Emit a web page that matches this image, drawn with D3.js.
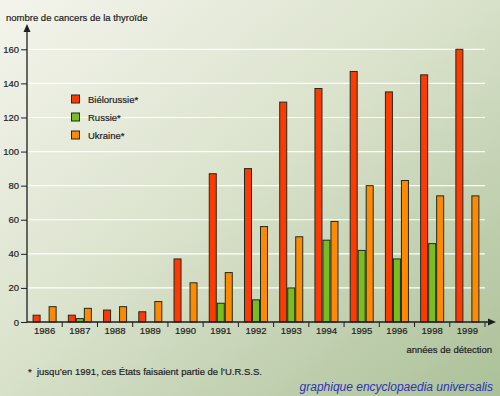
<!DOCTYPE html>
<html>
<head>
<meta charset="utf-8">
<script src="https://cdn.jsdelivr.net/npm/d3@7"></script>
<style>
  body { margin: 0; }
  svg { display: block; font-family: "Liberation Sans", Arial, sans-serif; }
  .info { fill: #1e1e1e; font-size: 9.5px; stroke: #1e1e1e; stroke-width: 0.2px; }
</style>
</head>
<body>
<div id="main"></div>
<script>
const years = ['1986', '1987', '1988', '1989', '1990', '1991', '1992', '1993', '1994', '1995', '1996', '1998', '1999'];
const series = ['Biélorussie*', 'Russie*', 'Ukraine*'];
const bielorussie = [4, 4, 7, 6, 37, 87, 90, 129, 137, 147, 135, 145, 160];
const russie = [0, 2, 0, 0, 0, 11, 13, 20, 48, 42, 37, 46, 0];
const ukraine = [9, 8, 9, 12, 23, 29, 56, 50, 59, 80, 83, 74, 74];
const yTicks = [0, 20, 40, 60, 80, 100, 120, 140, 160];
const colors = ['#ff3a00', '#79bd1e', '#ff8a00'];

function main() {
  const width = 500;
  const height = 396;
  const left = 27;
  const right = 485;
  const bottom = 322;

  const dataSet = years.map((y, i) => ({ year: y, values: [bielorussie[i], russie[i], ukraine[i]] }));

  const xScale = d3.scaleBand().domain(years).range([left, right]).padding(0);
  const inner = d3.scaleBand().domain(d3.range(3)).range([0, xScale.bandwidth()]).paddingOuter(0.7).paddingInner(0);
  const yScale = d3.scaleLinear().domain([0, 160]).range([bottom, 49.3]);

  const svg = d3.select('#main').append('svg')
    .attr('width', width)
    .attr('height', height);

  const grad = svg.append('defs').append('linearGradient')
    .attr('id', 'bg')
    .attr('x1', '0%').attr('y1', '0%')
    .attr('x2', '100%').attr('y2', '100%');
  grad.append('stop').attr('offset', '0%').attr('stop-color', '#f4f4ec');
  grad.append('stop').attr('offset', '45%').attr('stop-color', '#dbe3cd');
  grad.append('stop').attr('offset', '100%').attr('stop-color', '#abc098');

  svg.append('rect')
    .attr('width', width)
    .attr('height', height)
    .attr('fill', 'url(#bg)');

  // gridlines
  svg.append('g').selectAll('line')
    .data(yTicks.filter(d => d > 0))
    .enter()
    .append('line')
    .attr('x1', left)
    .attr('x2', right)
    .attr('y1', d => yScale(d))
    .attr('y2', d => yScale(d))
    .attr('stroke', '#ffffff')
    .attr('stroke-width', 1.2);

  // bars
  const groups = svg.append('g').selectAll('g')
    .data(dataSet)
    .enter()
    .append('g')
    .attr('transform', d => `translate(${xScale(d.year)},0)`);

  groups.selectAll('rect')
    .data(d => d.values.map((v, k) => ({ v, k })).filter(e => e.v > 0))
    .enter()
    .append('rect')
    .attr('x', d => inner(d.k) + 0.5)
    .attr('y', d => yScale(d.v))
    .attr('width', inner.bandwidth() - 1)
    .attr('height', d => bottom - yScale(d.v))
    .attr('fill', d => colors[d.k])
    .attr('stroke', '#1f2a22')
    .attr('stroke-width', 1);

  // y axis
  const yAxis = d3.axisLeft(yScale).tickValues(yTicks).tickSize(6).tickPadding(2);
  const gy = svg.append('g')
    .attr('transform', `translate(${left},0)`)
    .call(yAxis);
  gy.select('.domain').remove();
  gy.selectAll('line').attr('stroke', '#1e1e1e');
  gy.selectAll('text').attr('class', 'info').attr('font-family', null).attr('font-size', null);

  svg.append('line')
    .attr('x1', left).attr('x2', left)
    .attr('y1', bottom).attr('y2', 27)
    .attr('stroke', '#1e1e1e').attr('stroke-width', 1.3);
  svg.append('path')
    .attr('d', `M${left - 3.5},${32} L${left},${24} L${left + 3.5},${32} Z`)
    .attr('fill', '#1e1e1e');

  // x axis
  const xAxis = d3.axisBottom(xScale).tickSize(0).tickPadding(5);
  const gx = svg.append('g')
    .attr('transform', `translate(0,${bottom})`)
    .call(xAxis);
  gx.select('.domain').remove();
  gx.selectAll('text').attr('class', 'info').attr('font-family', null).attr('font-size', null);

  svg.append('g').selectAll('line')
    .data(years.slice(1).concat(['end']))
    .enter()
    .append('line')
    .attr('x1', d => (d === 'end' ? right : xScale(d)))
    .attr('x2', d => (d === 'end' ? right : xScale(d)))
    .attr('y1', bottom)
    .attr('y2', bottom + 5)
    .attr('stroke', '#1e1e1e');

  svg.append('line')
    .attr('x1', left).attr('x2', 490)
    .attr('y1', bottom).attr('y2', bottom)
    .attr('stroke', '#1e1e1e').attr('stroke-width', 1.3);
  svg.append('path')
    .attr('d', `M${488},${bottom - 3.5} L${496},${bottom} L${488},${bottom + 3.5} Z`)
    .attr('fill', '#1e1e1e');

  // legend
  const legend = svg.append('g').selectAll('g')
    .data(series)
    .enter()
    .append('g')
    .attr('transform', (d, i) => `translate(71,${99 + i * 18})`);
  legend.append('rect')
    .attr('x', 0.5).attr('y', -4)
    .attr('width', 8).attr('height', 8)
    .attr('fill', (d, i) => colors[i])
    .attr('stroke', '#1f2a22');
  legend.append('text')
    .attr('x', 17).attr('y', 3.5)
    .classed('info', true)
    .text(d => d);

  // titles
  svg.append('text')
    .attr('x', 6).attr('y', 21)
    .classed('info', true)
    .text('nombre de cancers de la thyroïde');

  svg.append('text')
    .attr('x', 492).attr('y', 353)
    .classed('info', true)
    .style('text-anchor', 'end')
    .text('années de détection');

  svg.append('text')
    .attr('x', 28).attr('y', 375)
    .classed('info', true)
    .style('white-space', 'pre')
    .text('*  jusqu’en 1991, ces États faisaient partie de l’U.R.S.S.');

  svg.append('text')
    .attr('x', 493).attr('y', 391)
    .style('font-size', '12px')
    .style('font-style', 'italic')
    .style('text-anchor', 'end')
    .attr('fill', '#2a35b0')
    .text('graphique encyclopaedia universalis');
}

document.addEventListener('DOMContentLoaded', main);
</script>
</body>
</html>
